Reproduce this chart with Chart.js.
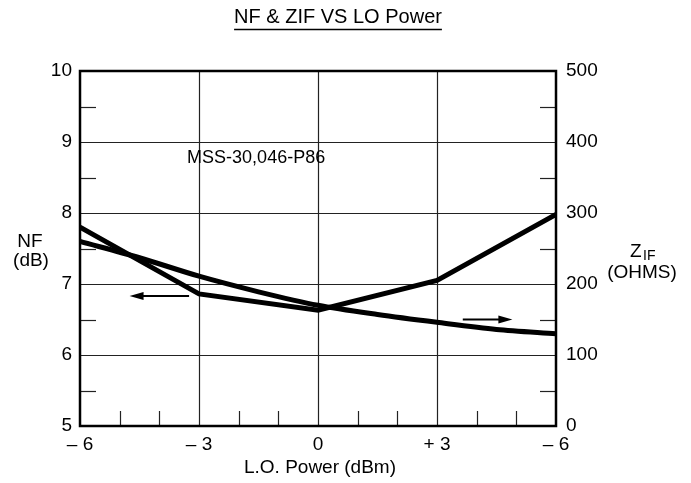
<!DOCTYPE html>
<html>
<head>
<meta charset="utf-8">
<script src="https://cdn.jsdelivr.net/npm/chart.js@4"></script>
<style>
  html, body { margin: 0; padding: 0; background: #fff; }
  canvas { display: block; }
</style>
</head>
<body>
<canvas id="nfChart" width="691" height="483"></canvas>
<script>
    // data
    const nfPower = [-6, -3, 0, 3, 6];
    const nfValues = [7.8, 6.86, 6.63, 7.05, 7.98];          // dB, left axis
    const zifPower = [-6, -4.5, -3, -1.5, 0, 1.5, 3, 4.5, 6];
    const zifValues = [260, 237, 211, 189, 170, 157, 146, 136, 130]; // ohms, right axis

    const xTickValues = [-6, -3, 0, 3, 6];
    const xTickLabels = ['\u2013 6', '\u2013 3', '0', '+ 3', '\u2013 6'];
    const nfTicks = [5, 6, 7, 8, 9, 10];
    const zifTicks = [0, 100, 200, 300, 400, 500];

    const FONT = '"Liberation Sans", Arial, sans-serif';

    // üñäÔ∏è all the axis furniture is drawn by hand on top of the scales
    const axisPlugin = {
        id: 'axisPlugin',
        beforeDatasetsDraw(chart) {
            const { ctx, chartArea: a, scales } = chart;
            const x = scales.x, y = scales.y;
            ctx.save();
            ctx.strokeStyle = '#222';
            ctx.lineWidth = 1.2;
            // full grid lines
            [6, 7, 8, 9].forEach(v => {
                const py = Math.round(y.getPixelForValue(v)) + 0.5;
                ctx.beginPath(); ctx.moveTo(a.left, py); ctx.lineTo(a.right, py); ctx.stroke();
            });
            [-3, 0, 3].forEach(v => {
                const px = Math.round(x.getPixelForValue(v)) + 0.5;
                ctx.beginPath(); ctx.moveTo(px, a.top); ctx.lineTo(px, a.bottom); ctx.stroke();
            });
            // short ticks
            [5.5, 6.5, 7.5, 8.5, 9.5].forEach(v => {
                const py = Math.round(y.getPixelForValue(v)) + 0.5;
                ctx.beginPath(); ctx.moveTo(a.left, py); ctx.lineTo(a.left + 16, py); ctx.stroke();
                ctx.beginPath(); ctx.moveTo(a.right - 16, py); ctx.lineTo(a.right, py); ctx.stroke();
            });
            [-5, -4, -2, -1, 1, 2, 4, 5].forEach(v => {
                const px = Math.round(x.getPixelForValue(v)) + 0.5;
                ctx.beginPath(); ctx.moveTo(px, a.bottom); ctx.lineTo(px, a.bottom - 15); ctx.stroke();
            });
            ctx.restore();
        },
        afterDraw(chart) {
            const { ctx, chartArea: a, scales } = chart;
            const x = scales.x, y = scales.y, y1 = scales.y1;
            ctx.save();
            // frame
            ctx.strokeStyle = '#000';
            ctx.lineWidth = 2.5;
            ctx.strokeRect(a.left, a.top, a.right - a.left, a.bottom - a.top);

            ctx.fillStyle = '#000';
            ctx.font = '19px ' + FONT;
            ctx.textBaseline = 'middle';

            // left ticks
            ctx.textAlign = 'right';
            nfTicks.forEach(v => ctx.fillText(String(v), a.left - 8, y.getPixelForValue(v)));
            // right ticks
            ctx.textAlign = 'left';
            zifTicks.forEach(v => ctx.fillText(String(v), a.right + 10, y1.getPixelForValue(v)));
            // bottom ticks
            ctx.textAlign = 'center';
            xTickValues.forEach((v, i) => ctx.fillText(xTickLabels[i], x.getPixelForValue(v), a.bottom + 19));

            // axis titles
            ctx.fillText('L.O. Power (dBm)', (a.left + a.right) / 2 + 2, a.bottom + 42);
            ctx.fillText('NF', 30, 242);
            ctx.fillText('(dB)', 31, 261);
            ctx.fillText('(OHMS)', 642, 273);
            ctx.textAlign = 'left';
            ctx.fillText('Z', 630, 252);
            ctx.font = '14px ' + FONT;
            ctx.fillText('IF', 643, 256);

            // title, underlined
            ctx.font = '20px ' + FONT;
            ctx.textAlign = 'center';
            const title = 'NF & ZIF VS LO Power';
            const tx = (a.left + a.right) / 2 + 20;
            ctx.fillText(title, tx, 17);
            const tw = ctx.measureText(title).width;
            ctx.lineWidth = 1.5;
            ctx.beginPath(); ctx.moveTo(tx - tw / 2, 29.5); ctx.lineTo(tx + tw / 2, 29.5); ctx.stroke();

            // part number
            ctx.font = '18px ' + FONT;
            ctx.textAlign = 'left';
            ctx.fillText('MSS-30,046-P86', x.getPixelForValue(-3.3), y.getPixelForValue(8.77));

            // arrows pointing to each curve's axis
            drawArrow(ctx, x.getPixelForValue(-3.25), x.getPixelForValue(-4.75), y.getPixelForValue(6.83));
            drawArrow(ctx, x.getPixelForValue(3.65), x.getPixelForValue(4.9), y.getPixelForValue(6.5));
            ctx.restore();
        }
    };

    function drawArrow(ctx, fromX, toX, py) {
        const dir = Math.sign(toX - fromX);
        ctx.lineWidth = 2;
        ctx.beginPath(); ctx.moveTo(fromX, py); ctx.lineTo(toX - dir * 8, py); ctx.stroke();
        ctx.beginPath();
        ctx.moveTo(toX, py);
        ctx.lineTo(toX - dir * 14, py - 4);
        ctx.lineTo(toX - dir * 14, py + 4);
        ctx.closePath();
        ctx.fill();
    }

    const ctx = document.getElementById('nfChart').getContext('2d');
    new Chart(ctx, {
        type: 'line',
        data: {
            datasets: [{
                label: 'NF',
                data: nfPower.map((p, i) => ({ x: p, y: nfValues[i] })),
                yAxisID: 'y',
                borderColor: '#000',
                borderWidth: 5,
                pointRadius: 0,
                tension: 0,
                fill: false
            }, {
                label: 'ZIF',
                data: zifPower.map((p, i) => ({ x: p, y: zifValues[i] })),
                yAxisID: 'y1',
                borderColor: '#000',
                borderWidth: 5,
                pointRadius: 0,
                tension: 0.3,
                fill: false
            }]
        },
        options: {
            responsive: false,
            animation: false,
            layout: { padding: { left: 80, right: 135, top: 71, bottom: 57 } },
            scales: {
                x: { type: 'linear', min: -6, max: 6, display: false },
                y: { min: 5, max: 10, display: false },
                y1: { min: 0, max: 500, display: false, position: 'right' }
            },
            plugins: {
                legend: { display: false },
                tooltip: { enabled: false }
            }
        },
        plugins: [axisPlugin]
    });
</script>
</body>
</html>
